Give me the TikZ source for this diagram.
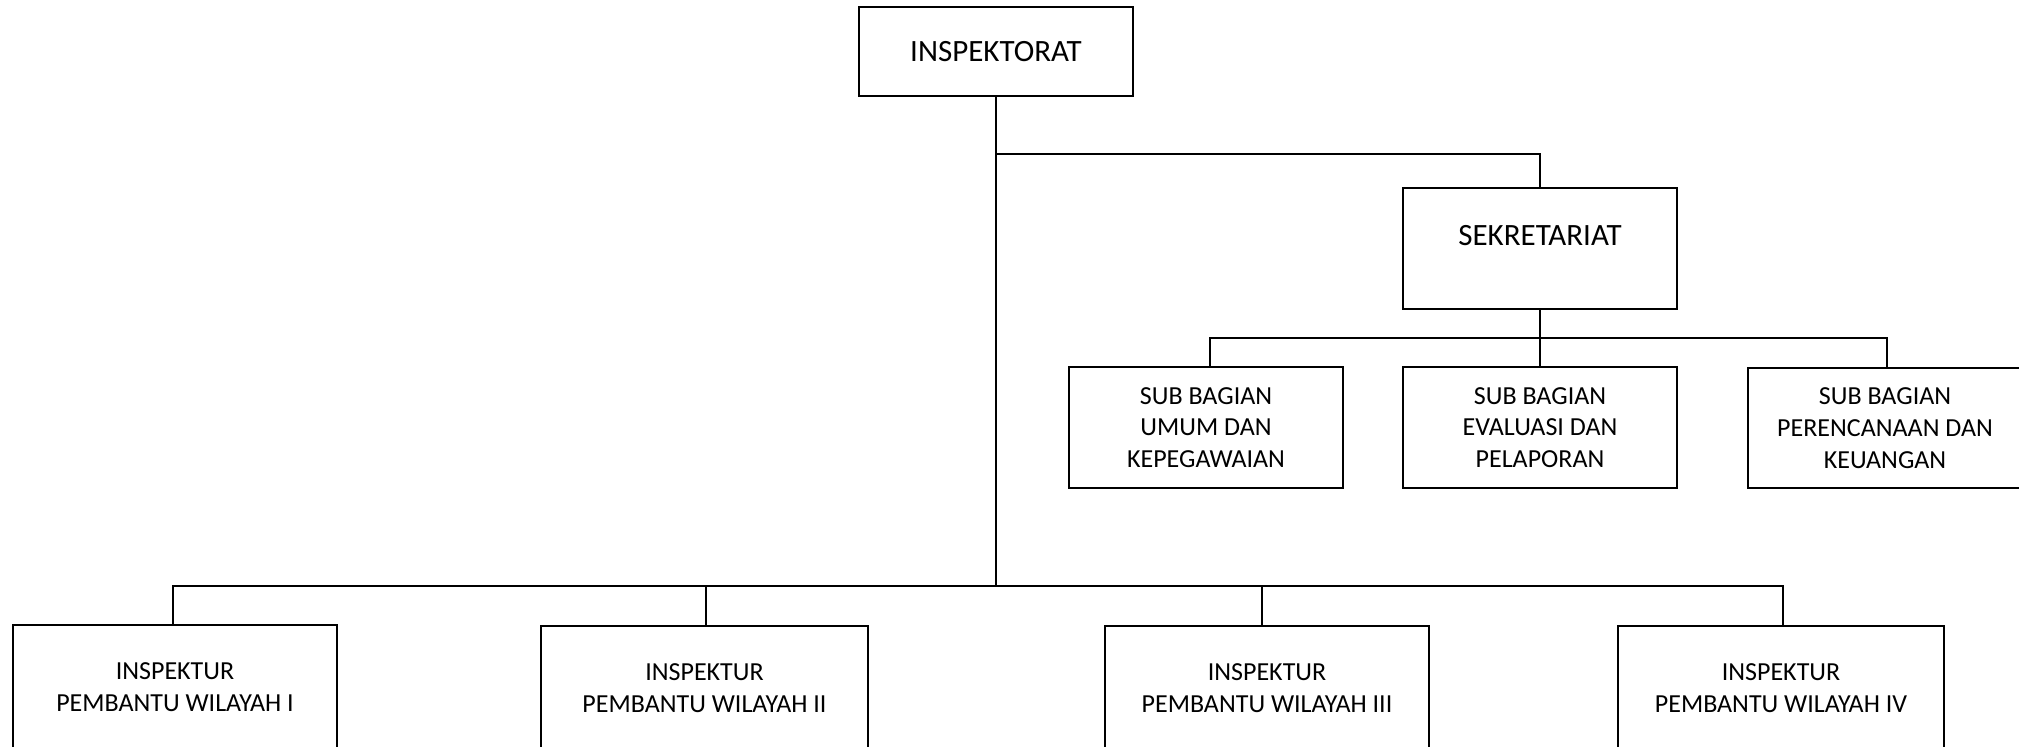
\documentclass[tikz,border=0pt]{standalone}
\usepackage{fontspec}
\setmainfont{Carlito}
\begin{document}
\begin{tikzpicture}[x=0.5pt,y=-0.5pt,
  box/.style={draw, line width=1pt, inner sep=0pt, minimum width=137pt},
  bigtxt/.style={font=\fontsize{15.5}{18}\selectfont, inner sep=0pt},
  smalltxt/.style={font=\fontsize{13}{15.85}\selectfont, align=center, inner sep=0pt},
  conn/.style={line width=1pt}]
\useasboundingbox (0,0) rectangle (2019,746);
\begin{scope}
\clip (0,0) rectangle (2019,746);
% top boxes
\node[box, minimum height=44.5pt, bigtxt] (insp) at (996,51.5) {INSPEKTORAT};
\node[box, minimum height=60.5pt] (sek) at (1540,248.5) {};
\node[bigtxt] (sektxt) at (1540,236) {SEKRETARIAT};
% sub bagian
\node[box, minimum height=60.5pt, smalltxt] (umum) at (1206,427.5) {SUB BAGIAN\\UMUM DAN\\KEPEGAWAIAN};
\node[box, minimum height=60.5pt, smalltxt] (eval) at (1540,427.5) {SUB BAGIAN\\EVALUASI DAN\\PELAPORAN};
\node[box, minimum height=60pt, smalltxt] (peren) at (1885,428) {SUB BAGIAN\\PERENCANAAN DAN\\KEUANGAN};
% inspektur pembantu
\node[box, minimum width=162pt, minimum height=62pt, smalltxt] (w1) at (175,687) {INSPEKTUR\\PEMBANTU WILAYAH I};
\node[box, minimum width=163.5pt, minimum height=62pt, smalltxt] (w2) at (704.5,688) {INSPEKTUR\\PEMBANTU WILAYAH II};
\node[box, minimum width=162pt, minimum height=62pt, smalltxt] (w3) at (1267,688) {INSPEKTUR\\PEMBANTU WILAYAH III};
\node[box, minimum width=163pt, minimum height=62pt, smalltxt] (w4) at (1781,688) {INSPEKTUR\\PEMBANTU WILAYAH IV};
\end{scope}
% bus coordinates
\coordinate (topbus) at (0,154);
\coordinate (midbus) at (0,338);
\coordinate (botbus) at (0,586);
% drop points
\coordinate (umumtop) at ([xshift=2pt]umum.north);
\coordinate (perentop) at ([xshift=1pt]peren.north);
\coordinate (w1top) at ([xshift=-1pt]w1.north);
\coordinate (w2top) at ([xshift=0.75pt]w2.north);
\coordinate (w3top) at ([xshift=-2.5pt]w3.north);
\coordinate (w4top) at ([xshift=1pt]w4.north);
% connectors
\draw[conn] (insp.south) -- (insp.south |- botbus);
\draw[conn] (insp.south |- topbus) -| (sek.north);
\draw[conn] (sek.south) -- (eval.north);
\draw[conn] (umumtop) |- (perentop |- midbus) -- (perentop);
\draw[conn] (w1top) |- (w4top |- botbus) -- (w4top);
\draw[conn] (w2top) -- (w2top |- botbus);
\draw[conn] (w3top) -- (w3top |- botbus);
\end{tikzpicture}
\end{document}
